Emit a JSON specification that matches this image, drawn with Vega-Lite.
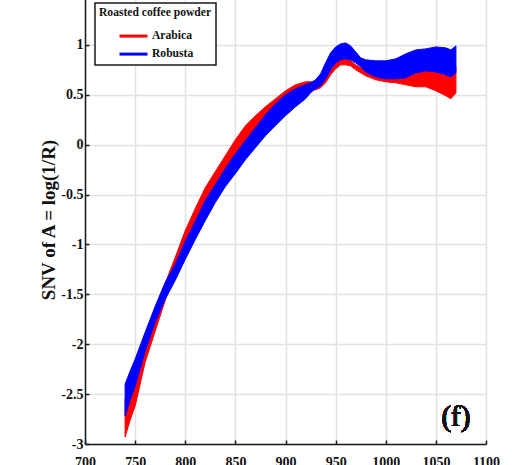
{
  "$schema": "https://vega.github.io/schema/vega-lite/v6.json",
  "autosize": "none",
  "width": 401,
  "height": 449,
  "padding": {"left": 85, "top": -5, "right": 26, "bottom": 21},
  "background": "white",
  "config": {
    "view": {"stroke": null},
    "font": "Liberation Serif",
    "axis": {
      "domainColor": "#1a1a1a",
      "domainWidth": 1.5,
      "tickColor": "#1a1a1a",
      "tickWidth": 1.5,
      "tickSize": -4,
      "gridColor": "#e2e2e2",
      "gridWidth": 1.5,
      "labelFont": "Liberation Serif",
      "labelFontSize": 14,
      "labelFontWeight": "bold",
      "labelColor": "#111111",
      "titleFont": "Liberation Serif",
      "titleFontWeight": "bold",
      "titleColor": "#111111"
    }
  },
  "data": {
    "values": [
      {"cls": "Arabica", "wl": 740, "lo": -2.93, "hi": -2.55},
      {"cls": "Arabica", "wl": 745, "lo": -2.76, "hi": -2.40},
      {"cls": "Arabica", "wl": 750, "lo": -2.62, "hi": -2.27},
      {"cls": "Arabica", "wl": 760, "lo": -2.18, "hi": -1.98},
      {"cls": "Arabica", "wl": 770, "lo": -1.87, "hi": -1.70},
      {"cls": "Arabica", "wl": 780, "lo": -1.56, "hi": -1.39},
      {"cls": "Arabica", "wl": 790, "lo": -1.28, "hi": -1.13},
      {"cls": "Arabica", "wl": 800, "lo": -1.02, "hi": -0.86},
      {"cls": "Arabica", "wl": 810, "lo": -0.80, "hi": -0.64},
      {"cls": "Arabica", "wl": 820, "lo": -0.58, "hi": -0.43},
      {"cls": "Arabica", "wl": 830, "lo": -0.42, "hi": -0.27},
      {"cls": "Arabica", "wl": 840, "lo": -0.27, "hi": -0.11},
      {"cls": "Arabica", "wl": 850, "lo": -0.12, "hi": 0.05},
      {"cls": "Arabica", "wl": 860, "lo": 0.02, "hi": 0.19},
      {"cls": "Arabica", "wl": 870, "lo": 0.12, "hi": 0.29},
      {"cls": "Arabica", "wl": 880, "lo": 0.21, "hi": 0.38},
      {"cls": "Arabica", "wl": 890, "lo": 0.30, "hi": 0.46},
      {"cls": "Arabica", "wl": 900, "lo": 0.38, "hi": 0.54},
      {"cls": "Arabica", "wl": 910, "lo": 0.45, "hi": 0.60},
      {"cls": "Arabica", "wl": 920, "lo": 0.52, "hi": 0.63},
      {"cls": "Arabica", "wl": 925, "lo": 0.54, "hi": 0.63},
      {"cls": "Arabica", "wl": 930, "lo": 0.55, "hi": 0.63},
      {"cls": "Arabica", "wl": 935, "lo": 0.57, "hi": 0.66},
      {"cls": "Arabica", "wl": 940, "lo": 0.62, "hi": 0.73},
      {"cls": "Arabica", "wl": 945, "lo": 0.70, "hi": 0.81},
      {"cls": "Arabica", "wl": 950, "lo": 0.76, "hi": 0.86},
      {"cls": "Arabica", "wl": 955, "lo": 0.80, "hi": 0.88},
      {"cls": "Arabica", "wl": 960, "lo": 0.80, "hi": 0.87},
      {"cls": "Arabica", "wl": 965, "lo": 0.79, "hi": 0.84},
      {"cls": "Arabica", "wl": 970, "lo": 0.75, "hi": 0.80},
      {"cls": "Arabica", "wl": 975, "lo": 0.72, "hi": 0.77},
      {"cls": "Arabica", "wl": 980, "lo": 0.69, "hi": 0.76},
      {"cls": "Arabica", "wl": 990, "lo": 0.65, "hi": 0.74},
      {"cls": "Arabica", "wl": 1000, "lo": 0.63, "hi": 0.74},
      {"cls": "Arabica", "wl": 1010, "lo": 0.62, "hi": 0.74},
      {"cls": "Arabica", "wl": 1020, "lo": 0.60, "hi": 0.76},
      {"cls": "Arabica", "wl": 1030, "lo": 0.58, "hi": 0.76},
      {"cls": "Arabica", "wl": 1040, "lo": 0.58, "hi": 0.76},
      {"cls": "Arabica", "wl": 1050, "lo": 0.54, "hi": 0.75},
      {"cls": "Arabica", "wl": 1060, "lo": 0.49, "hi": 0.72},
      {"cls": "Arabica", "wl": 1065, "lo": 0.46, "hi": 0.70},
      {"cls": "Arabica", "wl": 1070, "lo": 0.52, "hi": 0.78},
      {"cls": "Robusta", "wl": 740, "lo": -2.72, "hi": -2.40},
      {"cls": "Robusta", "wl": 745, "lo": -2.56, "hi": -2.27},
      {"cls": "Robusta", "wl": 750, "lo": -2.42, "hi": -2.15},
      {"cls": "Robusta", "wl": 760, "lo": -2.07, "hi": -1.88},
      {"cls": "Robusta", "wl": 770, "lo": -1.78, "hi": -1.62},
      {"cls": "Robusta", "wl": 780, "lo": -1.55, "hi": -1.38},
      {"cls": "Robusta", "wl": 790, "lo": -1.36, "hi": -1.20},
      {"cls": "Robusta", "wl": 800, "lo": -1.15, "hi": -0.97},
      {"cls": "Robusta", "wl": 810, "lo": -0.95, "hi": -0.77},
      {"cls": "Robusta", "wl": 820, "lo": -0.76, "hi": -0.56},
      {"cls": "Robusta", "wl": 830, "lo": -0.58, "hi": -0.40},
      {"cls": "Robusta", "wl": 840, "lo": -0.42, "hi": -0.24},
      {"cls": "Robusta", "wl": 850, "lo": -0.29, "hi": -0.09},
      {"cls": "Robusta", "wl": 860, "lo": -0.15, "hi": 0.04},
      {"cls": "Robusta", "wl": 870, "lo": -0.03, "hi": 0.17},
      {"cls": "Robusta", "wl": 880, "lo": 0.09, "hi": 0.30},
      {"cls": "Robusta", "wl": 890, "lo": 0.19, "hi": 0.41},
      {"cls": "Robusta", "wl": 900, "lo": 0.29, "hi": 0.50},
      {"cls": "Robusta", "wl": 910, "lo": 0.38, "hi": 0.56},
      {"cls": "Robusta", "wl": 920, "lo": 0.46, "hi": 0.60},
      {"cls": "Robusta", "wl": 925, "lo": 0.52, "hi": 0.62},
      {"cls": "Robusta", "wl": 930, "lo": 0.56, "hi": 0.65},
      {"cls": "Robusta", "wl": 935, "lo": 0.59, "hi": 0.71},
      {"cls": "Robusta", "wl": 940, "lo": 0.66, "hi": 0.82},
      {"cls": "Robusta", "wl": 945, "lo": 0.75, "hi": 0.92},
      {"cls": "Robusta", "wl": 950, "lo": 0.82, "hi": 0.98},
      {"cls": "Robusta", "wl": 955, "lo": 0.85, "hi": 1.01},
      {"cls": "Robusta", "wl": 960, "lo": 0.86, "hi": 1.02},
      {"cls": "Robusta", "wl": 965, "lo": 0.85, "hi": 0.99},
      {"cls": "Robusta", "wl": 970, "lo": 0.82, "hi": 0.93},
      {"cls": "Robusta", "wl": 975, "lo": 0.78, "hi": 0.87},
      {"cls": "Robusta", "wl": 980, "lo": 0.73, "hi": 0.85},
      {"cls": "Robusta", "wl": 990, "lo": 0.68, "hi": 0.84},
      {"cls": "Robusta", "wl": 1000, "lo": 0.66, "hi": 0.84},
      {"cls": "Robusta", "wl": 1010, "lo": 0.66, "hi": 0.86},
      {"cls": "Robusta", "wl": 1020, "lo": 0.67, "hi": 0.91},
      {"cls": "Robusta", "wl": 1030, "lo": 0.72, "hi": 0.95},
      {"cls": "Robusta", "wl": 1040, "lo": 0.74, "hi": 0.96},
      {"cls": "Robusta", "wl": 1050, "lo": 0.73, "hi": 0.98},
      {"cls": "Robusta", "wl": 1060, "lo": 0.70, "hi": 0.97},
      {"cls": "Robusta", "wl": 1065, "lo": 0.68, "hi": 0.95},
      {"cls": "Robusta", "wl": 1070, "lo": 0.72, "hi": 0.99}
    ]
  },
  "layer": [
    {
      "mark": {"type": "area", "strokeWidth": 1, "strokeJoin": "round"},
      "encoding": {
        "x": {
          "field": "wl",
          "type": "quantitative",
          "scale": {"domain": [700, 1100], "nice": false, "zero": false},
          "axis": {
            "title": null,
            "values": [700, 750, 800, 850, 900, 950, 1000, 1050, 1100],
            "labelExpr": "datum.value + ''",
            "labelFont": "Liberation Serif",
            "labelPadding": 15,
            "labelFlush": false
          }
        },
        "y": {
          "field": "hi",
          "type": "quantitative",
          "scale": {"domain": [-3, 1.5], "nice": false, "zero": false},
          "axis": {
            "title": "SNV of A = log(1/R)",
            "titleFont": "Liberation Serif",
            "titleFontWeight": "bold",
            "titleFontSize": 19,
            "titlePadding": 2,
            "values": [-3, -2.5, -2, -1.5, -1, -0.5, 0, 0.5, 1, 1.5],
            "labelExpr": "datum.value + ''",
            "labelFont": "Liberation Serif",
            "labelPadding": 6,
            "labelFlush": false
          }
        },
        "y2": {"field": "lo"},
        "color": {
          "field": "cls",
          "type": "nominal",
          "scale": {"domain": ["Arabica", "Robusta"], "range": ["#ff0000", "#0000ff"]},
          "legend": {
            "title": "Roasted coffee powder",
            "orient": "none",
            "legendX": 10,
            "legendY": 8,
            "direction": "vertical",
            "fillColor": "white",
            "strokeColor": "#1a1a1a",
            "padding": 4,
            "titleFont": "Liberation Serif",
            "titleFontSize": 11.6,
            "titleFontWeight": "bold",
            "titleColor": "#111111",
            "titlePadding": 9,
            "labelFont": "Liberation Serif",
            "labelFontSize": 11.6,
            "labelFontWeight": "bold",
            "labelColor": "#111111",
            "labelOffset": 10,
            "symbolType": "M-2,0H2",
            "symbolSize": 196,
            "symbolStrokeWidth": 3,
            "symbolOffset": 26,
            "rowPadding": 3,
            "encode": {
              "legend": {"update": {"strokeWidth": {"value": 1.5}}},
              "symbols": {"update": {"stroke": {"scale": "color", "field": "value"}, "fill": {"value": "transparent"}, "strokeWidth": {"value": 3}}}
            }
          }
        },
        "stroke": {
          "field": "cls",
          "type": "nominal",
          "scale": {"domain": ["Arabica", "Robusta"], "range": ["#ff0000", "#0000ff"]},
          "legend": null
        }
      }
    },
    {
      "mark": {"type": "text", "font": "Liberation Serif", "fontWeight": "normal", "fontSize": 29, "color": "#111111", "align": "center", "baseline": "middle"},
      "encoding": {
        "x": {"datum": 1070, "type": "quantitative"},
        "y": {"datum": -2.73, "type": "quantitative"},
        "text": {"value": "(f)"}
      }
    }
  ]
}
